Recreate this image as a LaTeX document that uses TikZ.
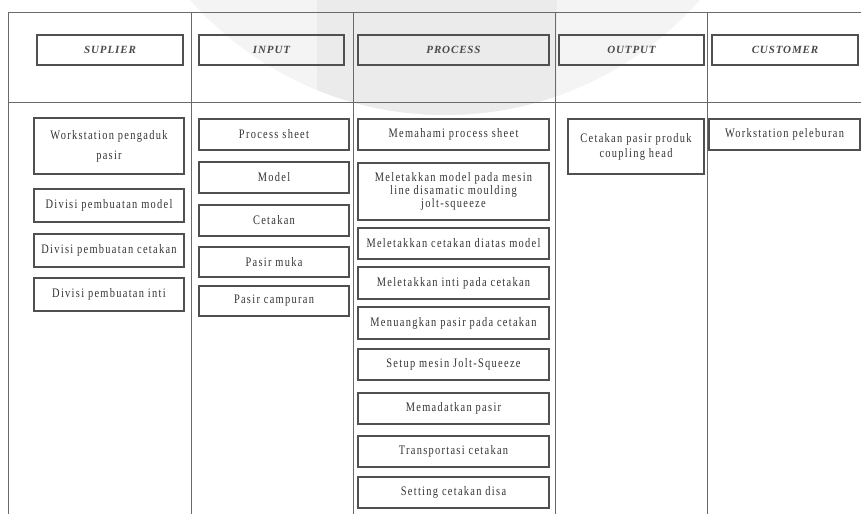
\documentclass[tikz,border=0pt]{standalone}
\usepackage{fontspec}
\newfontfamily\bodyfont[LetterSpace=10,FakeStretch=0.8]{Liberation Serif}
\newfontfamily\headfont[LetterSpace=8]{Liberation Serif}
\definecolor{wmlight}{HTML}{F4F4F4}
\definecolor{wmdark}{HTML}{EBEBEB}
\definecolor{gridline}{HTML}{6A6A6A}
\definecolor{boxline}{HTML}{505050}
\definecolor{txt}{HTML}{333333}
\definecolor{hdtxt}{HTML}{4A4A4A}
\tikzset{
  hdrbox/.style={draw=boxline, line width=1.1pt, inner sep=0pt, minimum height=30pt,
    font={\headfont\bfseries\itshape\fontsize{11}{13}\selectfont}, text=hdtxt},
  cellbox/.style={draw=boxline, line width=1.1pt, inner sep=0pt, align=center,
    font={\bodyfont\fontsize{13}{14}\selectfont}, text=txt},
  grid/.style={draw=gridline, line width=0.8pt}
}
\begin{document}
\begin{tikzpicture}[x=1pt,y=-1pt]
\useasboundingbox (0,0) rectangle (861,514);
% watermark
\begin{scope}
  \clip (0,0) rectangle (861,514);
  \fill[wmlight] (445,-225) circle (340);
  \clip (445,-225) circle (340);
  \fill[wmdark] (317,0) rectangle (557,200);
\end{scope}
% table grid
\draw[grid] (8,12) -- (861,12);
\draw[grid] (8,102) -- (861,102);
\foreach \xx in {8,191,353,555,707} {\draw[grid] (\xx,12) -- (\xx,514);}
% headers
\node[hdrbox, minimum width=146pt] (hsup) at (110,50) {SUPLIER};
\node[hdrbox, minimum width=145pt] (hinp) at (271.5,50) {INPUT};
\node[hdrbox, minimum width=191pt] (hpro) at (453.5,50) {PROCESS};
\node[hdrbox, minimum width=145pt] (hout) at (631.5,50) {OUTPUT};
\node[hdrbox, minimum width=146pt] (hcus) at (785,50) {CUSTOMER};
% supplier
\node[cellbox, minimum width=150pt, minimum height=56pt, font={\bodyfont\fontsize{13}{20}\selectfont}] (s1) at (109,146) {Workstation pengaduk\\pasir};
\node[cellbox, minimum width=150pt, minimum height=33pt] (s2) at (109,205.5) {Divisi pembuatan model};
\node[cellbox, minimum width=150pt, minimum height=33pt] (s3) at (109,250.5) {Divisi pembuatan cetakan};
\node[cellbox, minimum width=150pt, minimum height=33pt] (s4) at (109,294.5) {Divisi pembuatan inti};
% input
\node[cellbox, minimum width=150pt, minimum height=31pt] (i1) at (274,134.5) {Process sheet};
\node[cellbox, minimum width=150pt, minimum height=31pt] (i2) at (274,177.5) {Model};
\node[cellbox, minimum width=150pt, minimum height=31pt] (i3) at (274,220.5) {Cetakan};
\node[cellbox, minimum width=150pt, minimum height=30pt] (i4) at (274,262) {Pasir muka};
\node[cellbox, minimum width=150pt, minimum height=30pt] (i5) at (274,301) {Pasir campuran};
% process
\node[cellbox, minimum width=191pt, minimum height=31pt] (p1) at (453.5,134.5) {Memahami process sheet};
\node[cellbox, minimum width=191pt, minimum height=57pt, font={\bodyfont\fontsize{13}{10}\selectfont}] (p2) at (453.5,191.5) {Meletakkan model pada mesin\\line disamatic moulding\\jolt-squeeze};
\node[cellbox, minimum width=191pt, minimum height=31pt] (p3) at (453.5,243.5) {Meletakkan cetakan diatas model};
\node[cellbox, minimum width=191pt, minimum height=32pt] (p4) at (453.5,283) {Meletakkan inti pada cetakan};
\node[cellbox, minimum width=191pt, minimum height=32pt] (p5) at (453.5,323) {Menuangkan pasir pada cetakan};
\node[cellbox, minimum width=191pt, minimum height=31pt] (p6) at (453.5,364.5) {Setup mesin Jolt-Squeeze};
\node[cellbox, minimum width=191pt, minimum height=31pt] (p7) at (453.5,408.5) {Memadatkan pasir};
\node[cellbox, minimum width=191pt, minimum height=31pt] (p8) at (453.5,451.5) {Transportasi cetakan};
\node[cellbox, minimum width=191pt, minimum height=31pt] (p9) at (453.5,492.5) {Setting cetakan disa};
% output
\node[cellbox, minimum width=136pt, minimum height=55pt, font={\bodyfont\fontsize{13}{15}\selectfont}] (o1) at (636,146.5) {Cetakan pasir produk\\coupling head};
% customer
\node[cellbox, minimum width=151pt, minimum height=31pt] (c1) at (784.5,134.5) {Workstation peleburan};
\end{tikzpicture}
\end{document}
